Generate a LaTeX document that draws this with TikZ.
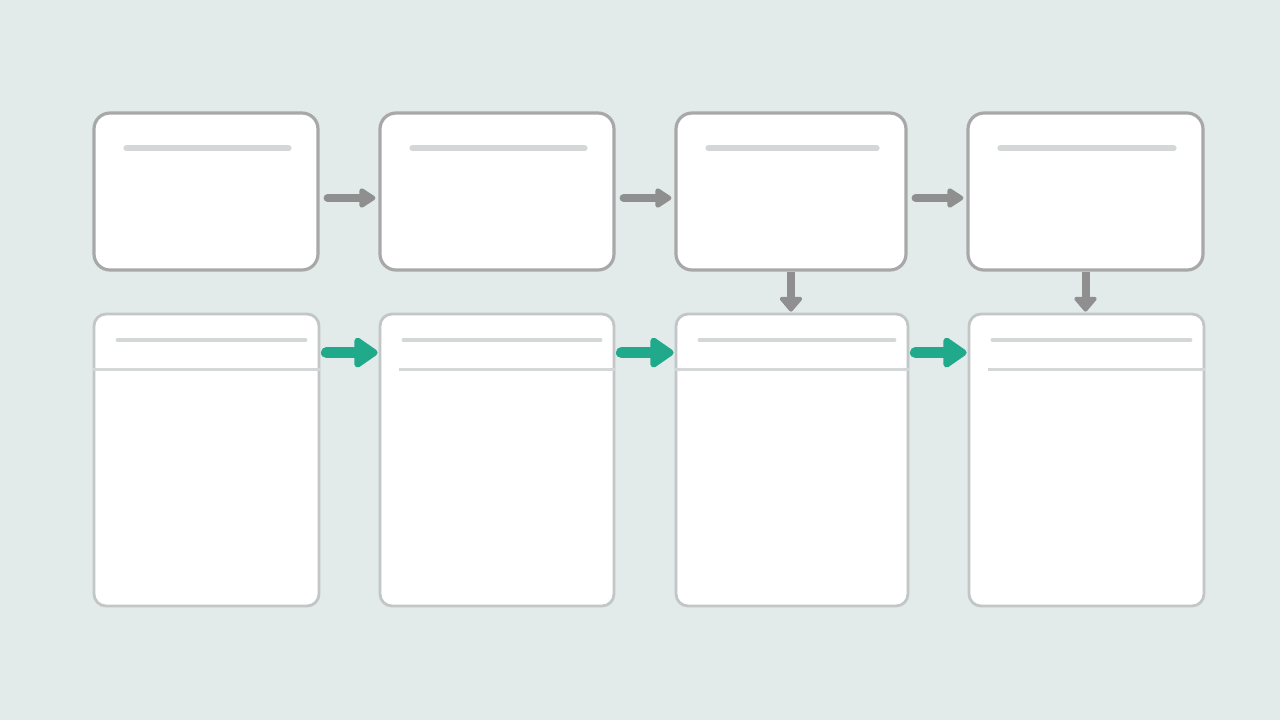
\documentclass[tikz,border=0pt]{standalone}
\usetikzlibrary{positioning}
\usetikzlibrary{calc}
\usetikzlibrary{arrows.meta}
\definecolor{bgcol}{HTML}{E3EBEA}
\definecolor{topedge}{HTML}{A8A8A8}
\definecolor{botedge}{HTML}{C2C6C6}
\definecolor{bar}{HTML}{D4D7D7}
\definecolor{flowgray}{HTML}{8F8F8F}
\definecolor{flowgreen}{HTML}{21A98B}
\tikzset{
	topbox/.style = {draw=topedge, line width=1.6pt, fill=white, rounded corners=8pt, inner sep=0pt, minimum height=78.5pt},
	botbox/.style = {draw=botedge, line width=1.4pt, fill=white, rounded corners=6pt, inner sep=0pt, minimum height=146pt},
	titlebar/.style = {draw=bar, line width=3pt, line cap=round},
	headbar/.style = {draw=bar, line width=2pt, line cap=round},
	sepbar/.style = {draw=bar, line width=1.5pt},
	grayflow/.style = {draw=flowgray, line width=4pt, line cap=round, -{Triangle[round, length=9pt, width=11pt]}, shorten <=4pt, shorten >=1.5pt},
	greenflow/.style = {draw=flowgreen, line width=5.5pt, line cap=round, -{Triangle[round, length=13pt, width=17pt]}, shorten <=3pt, shorten >=0.5pt},
	downflow/.style = {draw=flowgray, line width=4pt, -{Triangle[round, length=8pt, width=13pt]}, shorten >=0.5pt}
}
\begin{document}
\begin{tikzpicture}[x=0.5pt, y=-0.5pt]
		\fill[bgcol] (0,0) rectangle (1280,720);
		% top row
		\foreach \n/\cx/\w in {1/206/112, 2/497/117, 3/791/115, 4/1085.5/117.5}
		{
			\node[topbox, minimum width=\w pt] (t\n) at (\cx,191.5) {};
			\draw[titlebar] ($(t\n.north west)+(34,37)$) -- ($(t\n.north east)+(-31,37)$);
		}
		% bottom row
		\foreach \n/\cx/\w in {1/206.5/112.5, 2/497/117, 3/792/116, 4/1086.5/117.5}
		{
			\node[botbox, minimum width=\w pt] (b\n) at (\cx,460) {};
			\draw[headbar] ($(b\n.north west)+(25,27)$) -- ($(b\n.north east)+(-15,27)$);
		}
		\foreach \n in {1,3}
			\draw[sepbar] ($(b\n.north west)+(0,57)$) -- ($(b\n.north east)+(0,57)$);
		\foreach \n in {2,4}
			\draw[sepbar] ($(b\n.north west)+(20,57)$) -- ($(b\n.north east)+(0,57)$);
		% connectors
		\foreach \a/\b in {1/2, 2/3, 3/4}
		{
			\draw[grayflow] ([yshift=-3.25pt]t\a.east) -- ([yshift=-3.25pt]t\b.west);
			\draw[greenflow] ([yshift=-20pt]b\a.north east) -- ([yshift=-20pt]b\b.north west);
		}
		\foreach \n in {3,4}
			\draw[downflow] (t\n.south) -- (t\n.south |- b\n.north);
	\end{tikzpicture}
\end{document}
